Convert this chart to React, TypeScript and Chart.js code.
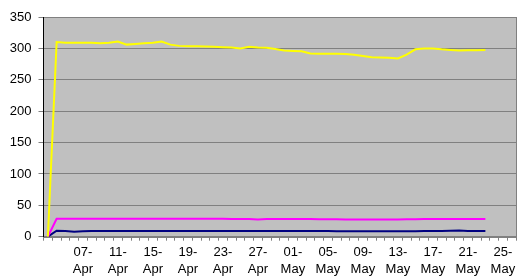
import React, { useEffect, useRef } from "react";
import { Chart, registerables } from "chart.js";

Chart.register(...registerables);

const categories: string[] = [
  "03-Apr", "04-Apr", "05-Apr", "06-Apr", "07-Apr", "08-Apr", "09-Apr", "10-Apr", "11-Apr", "12-Apr",
  "13-Apr", "14-Apr", "15-Apr", "16-Apr", "17-Apr", "18-Apr", "19-Apr", "20-Apr", "21-Apr", "22-Apr",
  "23-Apr", "24-Apr", "25-Apr", "26-Apr", "27-Apr", "28-Apr", "29-Apr", "30-Apr", "01-May", "02-May",
  "03-May", "04-May", "05-May", "06-May", "07-May", "08-May", "09-May", "10-May", "11-May", "12-May",
  "13-May", "14-May", "15-May", "16-May", "17-May", "18-May", "19-May", "20-May", "21-May", "22-May",
  "23-May", "24-May", "25-May", "26-May",
];

const yellowSeries: (number | null)[] = [
  0, 310, 309, 309, 309, 309, 308, 309, 311, 306,
  307, 308, 309, 311, 306, 304, 303.5, 303.5, 303, 302.5,
  302, 301.5, 300, 302.5, 301.5, 301, 299, 296.5, 296, 295.5,
  292, 291.5, 291.5, 291.5, 291, 290, 288, 286, 285.5, 285,
  284, 290, 298.5, 300, 300, 298.5, 297.5, 296.5, 297, 297,
  297.5, null, null, null,
];

const magentaSeries: (number | null)[] = [
  0, 28.5, 28.5, 28.5, 28.5, 28.5, 28.5, 28.5, 28.5, 28.5,
  28.5, 28.5, 28.5, 28.5, 28.5, 28.5, 28.5, 28.5, 28.5, 28.5,
  28.5, 28, 28, 28, 27.5, 28, 28, 28, 28, 28,
  28, 27.8, 27.8, 27.8, 27.5, 27.5, 27.5, 27.5, 27.5, 27.5,
  27.5, 27.8, 27.8, 28, 28, 28, 28, 28, 28.2, 28,
  28, null, null, null,
];

const navySeries: (number | null)[] = [
  0, 9.5, 9, 8, 8.5, 9, 9, 9, 9, 9,
  9, 9, 9, 9, 9, 9, 9, 9, 9, 9,
  9, 9, 9, 9, 9, 9, 9, 9, 9, 9,
  9, 9, 9, 8.8, 8.8, 8.5, 8.5, 8.5, 8.5, 8.5,
  8.5, 8.5, 8.8, 9, 9, 9, 9.5, 10, 9.2, 9,
  9, null, null, null,
];

const yTicks = { min: 0, max: 350, step: 50 };
const labelEvery = 4;

const FONT = "Arial, 'Liberation Sans', sans-serif";

export default function App() {
  const canvasRef = useRef<HTMLCanvasElement | null>(null);

  useEffect(() => {
    const canvas = canvasRef.current;
    if (!canvas) return;

    const plotBg = {
      id: "plotBg",
      beforeDraw(chart: any) {
        const { ctx, chartArea } = chart;
        ctx.save();
        ctx.fillStyle = "#C0C0C0";
        ctx.fillRect(chartArea.left, chartArea.top, chartArea.right - chartArea.left, chartArea.bottom - chartArea.top);
        ctx.restore();
      },
      afterDatasetsDraw(chart: any) {
        const { ctx, chartArea } = chart;
        ctx.save();
        ctx.strokeStyle = "#808080";
        ctx.lineWidth = 1;
        ctx.beginPath();
        ctx.moveTo(chartArea.right + 0.5, chartArea.top);
        ctx.lineTo(chartArea.right + 0.5, chartArea.bottom);
        ctx.stroke();
        ctx.restore();
      },
    };

    const mk = (data: (number | null)[], color: string) => ({
      data,
      borderColor: color,
      backgroundColor: color,
      borderWidth: 2,
      pointRadius: 0,
      tension: 0,
      spanGaps: false,
      fill: false,
    });

    const chart = new Chart(canvas, {
      type: "line",
      data: {
        labels: categories,
        datasets: [
          mk(yellowSeries, "#FFFF00"),
          mk(magentaSeries, "#FF00FF"),
          mk(navySeries, "#000080"),
        ],
      },
      plugins: [plotBg],
      options: {
        animation: false,
        responsive: false,
        maintainAspectRatio: false,
        layout: { padding: { top: 17, right: 2, left: 0, bottom: 0 } },
        plugins: {
          legend: { display: false },
          tooltip: { enabled: false },
        },
        scales: {
          x: {
            type: "category",
            offset: true,
            grid: {
              offset: true,
              drawOnChartArea: false,
              drawTicks: true,
              tickLength: 4,
              color: "#808080",
            },
            border: { display: true, color: "#808080", width: 2 },
            ticks: {
              autoSkip: false,
              maxRotation: 0,
              minRotation: 0,
              padding: 3,
              color: "#000",
              font: { family: FONT, size: 13, lineHeight: 1.3 },
              callback: (_v: any, i: number) => {
                if (i >= labelEvery && i % labelEvery === 0) {
                  const parts = categories[i].split("-");
                  return [parts[0] + "-", parts[1]];
                }
                return "";
              },
            },
            afterFit: (scale: any) => {
              scale.height = 42.3;
            },
          },
          y: {
            min: yTicks.min,
            max: yTicks.max,
            ticks: {
              stepSize: yTicks.step,
              color: "#000",
              padding: 7,
              font: { family: FONT, size: 13 },
            },
            grid: {
              color: "#808080",
              tickLength: 5,
              lineWidth: 1,
            },
            border: { display: true, color: "#000", width: 1 },
            afterFit: (scale: any) => {
              scale.width = 43.5;
            },
          },
        },
      },
    });

    return () => chart.destroy();
  }, []);

  return (
    <div style={{ position: "absolute", left: 0, top: 0, width: 518, height: 279 }}>
      <canvas ref={canvasRef} width={518} height={279} style={{ display: "block", width: 518, height: 279 }} />
    </div>
  );
}
